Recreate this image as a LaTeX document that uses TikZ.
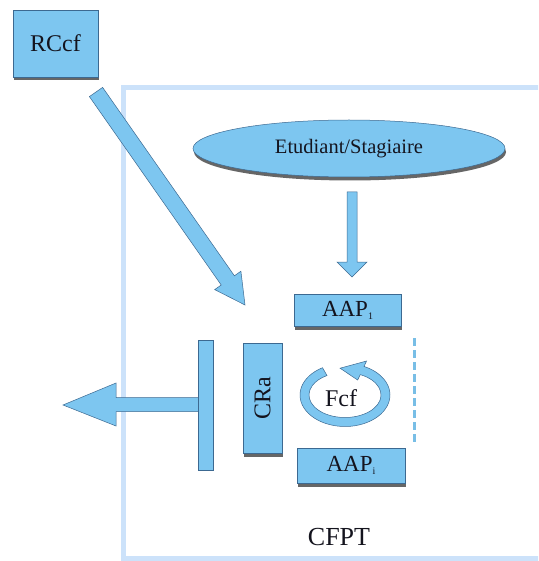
\documentclass[tikz,border=0pt]{standalone}
\usepackage{fontspec}
\usepackage{graphicx}
\setmainfont{Liberation Serif}
\newfontfamily\lserif{Liberation Serif}
\usetikzlibrary{shadows,calc,shapes.geometric}
\definecolor{boxfill}{RGB}{125,198,240}
\definecolor{boxline}{RGB}{60,105,145}
\definecolor{framecol}{RGB}{204,226,250}
\definecolor{dashcol}{RGB}{120,190,230}
\definecolor{textcol}{RGB}{20,20,30}
\begin{document}
\begin{tikzpicture}[x=1pt,y=-1pt,
  box/.style={draw=boxline, line width=0.5pt, fill=boxfill, inner sep=0pt, text=textcol,
    drop shadow={shadow xshift=1pt, shadow yshift=-3.5pt, opacity=0.75, fill=black!80}},
  blockarrow/.style={draw=boxline, line width=0.5pt, fill=boxfill},
  lbl/.style={font=\lserif\fontsize{24}{24}\selectfont, text=textcol}
]
\useasboundingbox (0,0) rectangle (538,561);
\clip (0,0) rectangle (538,561);
\fill[white] (0,0) rectangle (538,561);
% frame
\draw[framecol, line width=5pt] (123,87.5) rectangle (560,558.5);
\node[text=textcol, font=\lserif\fontsize{26}{26}\selectfont] (cfpt) at (339,537) {CFPT};
% RCcf
\node[box, lbl, minimum width=85pt, minimum height=67pt] (rccf) at (55.5,43.5) {RCcf};
% diagonal arrow
\draw[blockarrow] (89.4,96.6) -- (102.6,87.4) -- (234.4,275.8) -- (240.9,271.2)
  -- (245,305) -- (214.7,289.6) -- (221.2,285.0) -- cycle;
% ellipse
\node[box, ellipse, minimum width=312pt, minimum height=57pt, font=\lserif\fontsize{20.5}{20.5}\selectfont]
  (etu) at (349,148.5) {Etudiant/Stagiaire};
% down arrow
\draw[blockarrow] (347,192) -- (357,192) -- (357,262) -- (367,262) -- (352,277)
  -- (337,262) -- (347,262) -- cycle;
% AAP boxes
\node[box, minimum width=107pt, minimum height=32pt, font=\lserif\fontsize{23}{23}\selectfont]
  (aap1) at (347.5,310) {AAP\raisebox{-0.3ex}{\fontsize{10}{10}\selectfont 1}};
\node[box, minimum width=108pt, minimum height=35pt, font=\lserif\fontsize{23}{23}\selectfont]
  (aapi) at (351,465.5) {AAP\raisebox{-0.3ex}{\fontsize{10}{10}\selectfont i}};
% CRa
\node[box, lbl, minimum width=39pt, minimum height=110pt] (cra) at (262.5,398) {\rotatebox{90}{CRa}};
% left arrow and T bar
\coordinate (ltip) at (63,405);
\draw[blockarrow] (200,397.5) -- (116,397.5) -- (116,383) -- (ltip) -- (116,426)
  -- (116,411.5) -- (200,411.5) -- cycle;
\node[blockarrow, inner sep=0pt, minimum width=15pt, minimum height=130pt] (tbar) at (205.5,405) {};
% Fcf cycle
\coordinate (fcfc) at (345,395);
\draw[blockarrow] ($(fcfc)+(240:45 and 31.5)$) arc[start angle=240, end angle=-65, x radius=45, y radius=31.5]
  -- ($(fcfc)+(-65:51 and 37.5)$) -- ($(fcfc)+(-97:40.5 and 27)$) -- ($(fcfc)+(-65:30 and 16.5)$)
  -- ($(fcfc)+(-65:36 and 22.5)$)
  arc[start angle=-65, end angle=240, x radius=36, y radius=22.5] -- cycle;
\node[lbl] (fcf) at (341,398) {Fcf};
% dashed line
\coordinate (d1) at (414,338);
\coordinate (d2) at (414,445);
\draw[dashcol, line width=3pt, dash pattern=on 8pt off 4pt] (d1) -- (d2);
\end{tikzpicture}
\end{document}
